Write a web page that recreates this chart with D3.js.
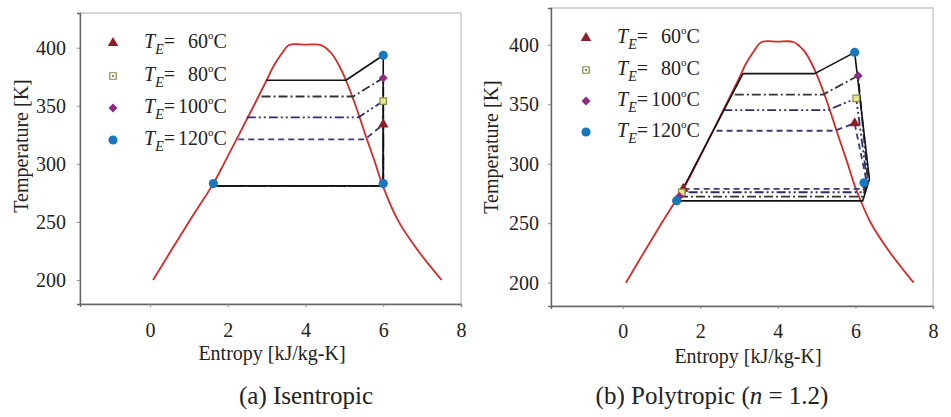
<!DOCTYPE html>
<html>
<head>
<meta charset="utf-8">
<script src="https://cdn.jsdelivr.net/npm/d3@7"></script>
<style>
  body { margin: 0; background: #fff; }
  text { font-family: "Liberation Serif", "Times New Roman", serif; fill: #222; }
</style>
</head>
<body>
<svg id="chart" width="951" height="417"></svg>
<script>
// saturation dome (entropy kJ/kg-K, temperature K)
const satS = [0.08, 1.0, 1.63, 1.9, 2.67, 3.0, 3.17, 3.39, 3.58, 4.0, 4.4, 4.67, 4.88, 5.04, 5.29, 5.53, 5.78, 6.0, 6.4, 6.9, 7.5];
const satT = [200, 250, 283, 300, 350, 372, 383.6, 395, 402.3, 402.6, 402.3, 395, 383.6, 372, 350, 326, 302, 280, 250, 225, 200];

// cases, ordered 60, 80, 100, 120 degC
const teLabels = ['60', '80', '100', '120'];

// (a) isentropic
const isoEvapT = [281, 281, 281, 281];
const isoEvapSL = [1.63, 1.63, 1.63, 1.63];
const isoEvapSR = [6.0, 6.0, 6.0, 6.0];
const isoSucS = [6.0, 6.0, 6.0, 6.0];
const isoSucT = [281, 281, 281, 281];
const isoOutS = [6.0, 6.0, 6.0, 6.0];
const isoOutT = [334, 354, 374, 393.5];
const isoCondT = [321, 340, 358, 372];
const isoCondSL = [2.27, 2.49, 2.87, 3.0];
const isoCondSR = [5.53, 5.36, 5.23, 5.04];
const isoClosed = [false, false, false, false];
const isoMarkS = [1.63, 6.0];
const isoMarkT = [283, 283];

// (b) polytropic n = 1.2
const polyEvapT = [278.9, 276.0, 272.4, 268.8];
const polyEvapSL = [1.56, 1.52, 1.46, 1.39];
const polyEvapSR = [6.19, 6.19, 6.19, 6.19];
const polySucS = [6.28, 6.3, 6.32, 6.36];
const polySucT = [286, 286, 286, 287];
const polyOutS = [5.98, 6.02, 6.07, 5.98];
const polyOutT = [334, 355, 374, 393.6];
const polyCondT = [327.7, 345.1, 358, 375.7];
const polyCondSL = [2.42, 2.59, 2.89, 3.1];
const polyCondSR = [5.46, 5.29, 5.16, 4.95];
const polyClosed = [false, false, false, true];
const polyMarkS = [6.22];
const polyMarkT = [284];

const xTicks = [0, 2, 4, 6, 8];
const yTicks = [200, 250, 300, 350, 400];

// styles per case
const caseColor = ['#383d7a', '#2c2e6c', '#333333', '#111111'];
const caseDash = ['6,4', '9,3,2,3,2,3', '9,3,2,3', null];
const caseWidth = [1.8, 1.8, 1.8, 1.6];
const markType = [d3.symbolTriangle, d3.symbolSquare, d3.symbolSquare, d3.symbolCircle];
const markRot = [0, 0, 45, 0];
const markSize = [48, 42, 40, 66];
const markFill = ['#8e1f26', '#e6e68e', '#8a2c80', '#1778bd'];
const markStroke = ['none', '#8a8a48', 'none', 'none'];

const svg = d3.select('#chart');

function drawMarker(g, k, px, py, legend) {
  g.append('path')
    .attr('d', d3.symbol().type(markType[k]).size(markSize[k]))
    .attr('transform', `translate(${px},${py}) rotate(${markRot[k]})`)
    .attr('fill', legend && k === 1 ? '#fff' : markFill[k])
    .attr('stroke', markStroke[k])
    .attr('stroke-width', 1.2);
  if (legend && k === 1) {
    g.append('rect').attr('x', px - 1).attr('y', py - 1).attr('width', 2).attr('height', 2).attr('fill', '#8a8a48');
  }
}

function drawPanel(p) {
  const x = d3.scaleLinear().domain(p.xDomain).range([p.left, p.right]);
  const y = d3.scaleLinear().domain(p.yDomain).range([p.bottom, p.top]);
  const g = svg.append('g');

  // frame
  g.append('rect')
    .attr('x', p.left).attr('y', p.top)
    .attr('width', p.right - p.left).attr('height', p.bottom - p.top)
    .attr('fill', 'none').attr('stroke', '#bdbdbd').attr('stroke-width', 1.2);

  const yAxis = g.append('g')
    .attr('transform', `translate(${p.left},0)`)
    .call(d3.axisLeft(y).tickValues(yTicks).tickSize(3).tickPadding(p.yPad));
  const xAxis = g.append('g')
    .attr('transform', `translate(0,${p.bottom})`)
    .call(d3.axisBottom(x).tickValues(xTicks).tickSize(3).tickPadding(p.xPad));
  [xAxis, yAxis].forEach((a) => {
    a.select('.domain').attr('stroke', '#666').attr('stroke-width', 1.4);
    a.selectAll('.tick line').attr('stroke', '#888');
    a.selectAll('text').attr('font-size', 20).attr('fill', '#222')
      .style('font-family', '"Liberation Serif", serif');
  });

  g.append('text')
    .attr('transform', 'rotate(-90)')
    .attr('x', -p.yLabelY).attr('y', p.yLabelX)
    .attr('text-anchor', 'middle').attr('font-size', 20)
    .text('Temperature [K]');
  g.append('text')
    .attr('x', p.xLabelX).attr('y', p.xLabelY)
    .attr('text-anchor', 'middle').attr('font-size', 20)
    .text('Entropy [kJ/kg-K]');

  const line = d3.line().x((d) => x(d[0])).y((d) => y(d[1]));

  // saturation dome
  g.append('path')
    .datum(d3.zip(satS, satT))
    .attr('d', line.curve(d3.curveCatmullRom.alpha(0.5)))
    .attr('fill', 'none').attr('stroke', '#d42a2a').attr('stroke-width', 1.8);
  line.curve(d3.curveLinear);

  // cycles
  const c = p.cycle;
  teLabels.forEach((_, i) => {
    const pts = [
      [c.condSL[i], c.condT[i]],
      [c.condSR[i], c.condT[i]],
      [c.outS[i], c.outT[i]],
      [c.sucS[i], c.sucT[i]],
      [c.evapSR[i], c.evapT[i]],
      [c.evapSL[i], c.evapT[i]],
    ];
    if (c.closed[i]) pts.push([c.condSL[i], c.condT[i]]);
    g.append('path')
      .datum(pts)
      .attr('d', line)
      .attr('fill', 'none')
      .attr('stroke', caseColor[i])
      .attr('stroke-width', caseWidth[i])
      .attr('stroke-dasharray', caseDash[i])
      .attr('stroke-linejoin', 'round');
  });

  // state point markers
  teLabels.forEach((_, i) => {
    if (p.evapMarkers) drawMarker(g, i, x(c.evapSL[i]), y(c.evapT[i]), false);
  });
  p.extraS.forEach((s, j) => drawMarker(g, 3, x(s), y(p.extraT[j]), false));
  teLabels.forEach((_, i) => drawMarker(g, i, x(c.outS[i]), y(c.outT[i]), false));

  // legend
  teLabels.forEach((lab, i) => {
    const ly = p.legY[i];
    drawMarker(g, i, p.legX, ly, true);
    const t = g.append('text').attr('x', p.legX + 31).attr('y', ly + 5).attr('font-size', 20);
    t.append('tspan').attr('font-style', 'italic').text('T');
    t.append('tspan').attr('font-style', 'italic').attr('font-size', 14).attr('dy', 6).text('E');
    t.append('tspan').attr('dy', -6).text('=');
    g.append('text').attr('x', p.legX + 95).attr('y', ly + 5).attr('font-size', 20)
      .attr('text-anchor', 'end').text(lab);
    const u = g.append('text').attr('x', p.legX + 95).attr('y', ly + 5).attr('font-size', 20);
    u.append('tspan').attr('font-size', 11).attr('dy', -9).text('o');
    u.append('tspan').attr('dy', 9).text('C');
  });

  // caption
  const cap = g.append('text')
    .attr('x', p.capX).attr('y', 404)
    .attr('text-anchor', 'middle').attr('font-size', 25);
  p.caption.forEach((part) => {
    cap.append('tspan').attr('font-style', part[1] ? 'italic' : 'normal').text(part[0]);
  });
}

drawPanel({
  left: 80, right: 461, top: 13, bottom: 304,
  xDomain: [-1.8, 8], yDomain: [179.3, 429.9],
  yPad: 11, xPad: 16,
  yLabelX: 28, yLabelY: 146, xLabelX: 272, xLabelY: 360,
  legX: 113, legY: [43, 76, 108, 140],
  capX: 306, caption: [['(a) Isentropic', false]],
  evapMarkers: false, extraS: isoMarkS, extraT: isoMarkT,
  cycle: {
    evapT: isoEvapT, evapSL: isoEvapSL, evapSR: isoEvapSR,
    sucS: isoSucS, sucT: isoSucT, outS: isoOutS, outT: isoOutT,
    condT: isoCondT, condSL: isoCondSL, condSR: isoCondSR, closed: isoClosed,
  },
});

drawPanel({
  left: 551, right: 933, top: 8, bottom: 306,
  xDomain: [-1.85, 8], yDomain: [180.4, 430.9],
  yPad: 9, xPad: 15,
  yLabelX: 498, yLabelY: 147, xLabelX: 748, xLabelY: 363,
  legX: 586, legY: [38, 70, 101, 132],
  capX: 712, caption: [['(b) Polytropic (', false], ['n', true], [' = 1.2)', false]],
  evapMarkers: true, extraS: polyMarkS, extraT: polyMarkT,
  cycle: {
    evapT: polyEvapT, evapSL: polyEvapSL, evapSR: polyEvapSR,
    sucS: polySucS, sucT: polySucT, outS: polyOutS, outT: polyOutT,
    condT: polyCondT, condSL: polyCondSL, condSR: polyCondSR, closed: polyClosed,
  },
});
</script>
</body>
</html>
